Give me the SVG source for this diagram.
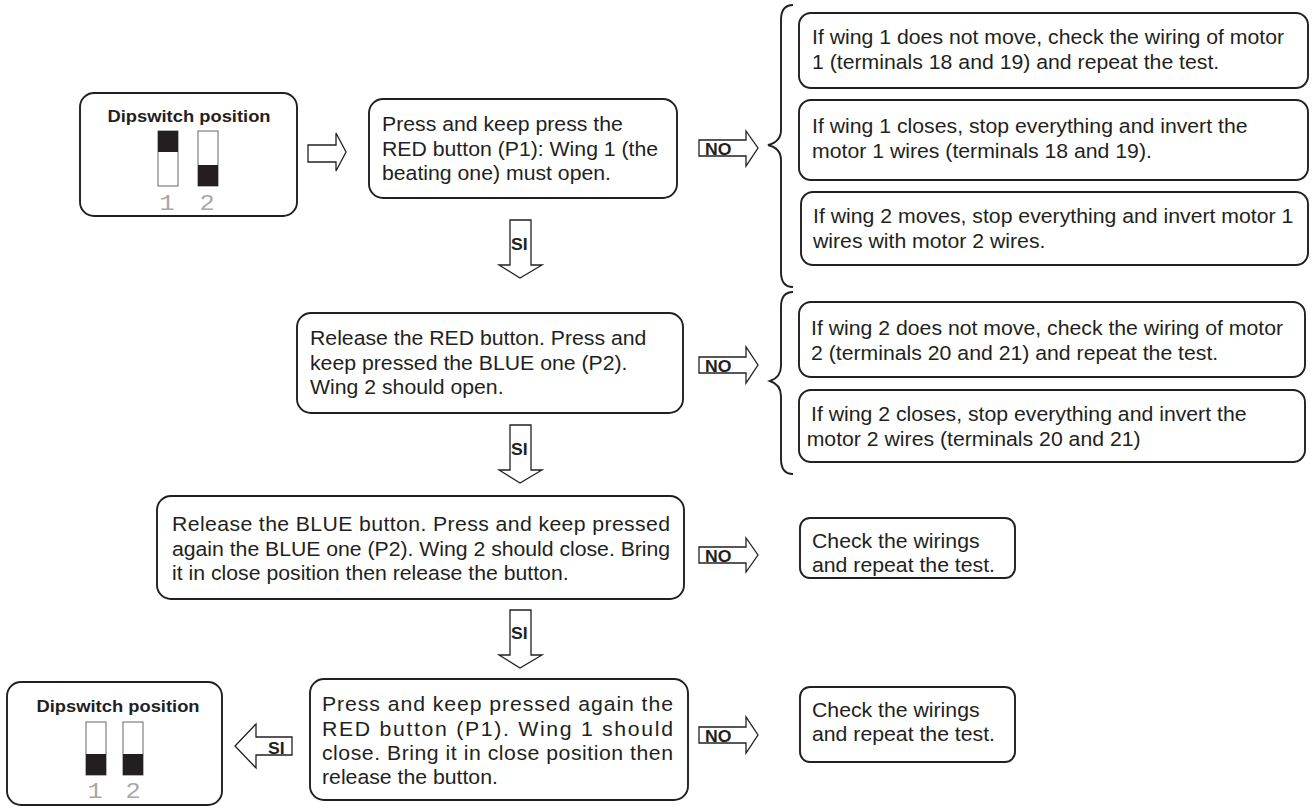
<svg xmlns="http://www.w3.org/2000/svg" width="1312" height="808" viewBox="0 0 1312 808">
  <defs>
    <style>
      .box { fill: #fff; stroke: #231f20; stroke-width: 1.9; }
      .arr { fill: #fff; stroke: #231f20; stroke-width: 1.3; stroke-linejoin: miter; }
      .brace { fill: none; stroke: #231f20; stroke-width: 1.9; }
      .sw { fill: #fff; stroke: #666; stroke-width: 1; }
      .swk { fill: #231f20; }
      .t { font-family: "Liberation Sans", Arial, Helvetica, sans-serif; font-size: 19.5px; fill: #231f20; }
      .ttl { font-family: "Liberation Sans", Arial, Helvetica, sans-serif; font-size: 17px; font-weight: bold; fill: #231f20; text-anchor: middle; }
      .lbl { font-family: "Liberation Sans", Arial, Helvetica, sans-serif; font-size: 16.5px; font-weight: bold; fill: #231f20; }
      .dig { font-family: "Liberation Mono", "Courier New", monospace; font-size: 22px; fill: #a8a8a8; text-anchor: middle; }
    </style>
  </defs>
  <rect width="1312" height="808" fill="#fff"/>

  <!-- connectors: block arrows and braces -->
  <g id="connectors">
    <polygon class="arr" points="308,145 336,145 336,133 346,152 336,171 336,162 308,162"/>
    <polygon class="arr" points="699,140 746,140 746,131 758,148 746,166 746,156 699,156"/>
    <polygon class="arr" points="699,357 746,357 746,347 758,365 746,383 746,373 699,373"/>
    <polygon class="arr" points="699,547 746,547 746,538 758,555 746,572 746,563 699,563"/>
    <polygon class="arr" points="699,727 746,727 746,717 758,735 746,753 746,743 699,743"/>
    <polygon class="arr" points="510,220 531,220 531,265 542,265 520,278 499,265 510,265"/>
    <polygon class="arr" points="510,425 531,425 531,470 542,470 520,483 499,470 510,470"/>
    <polygon class="arr" points="510,610 531,610 531,655 542,655 520,668 499,655 510,655"/>
    <polygon class="arr" points="292,737 256,737 256,724 235,746 256,768 256,755 292,755"/>
    <g transform="translate(705 0) scale(1.07 1)"><text class="lbl" x="0" y="155">NO</text><text class="lbl" x="0" y="372">NO</text><text class="lbl" x="0" y="562">NO</text><text class="lbl" x="0" y="742">NO</text></g>
    <g transform="translate(511 0) scale(1.07 1)"><text class="lbl" x="0" y="250">SI</text><text class="lbl" x="0" y="455">SI</text><text class="lbl" x="0" y="639">SI</text></g>
    <g transform="translate(268 0) scale(1.07 1)"><text class="lbl" x="0" y="754">SI</text></g>
    <path class="brace" d="M793 5 C785 5 781 10 781 20 L781 130 C781 139 776 143 768 145 C776 147 781 151 781 160 L781 272 C781 282 785 287 793 287"/>
    <path class="brace" d="M793 292 C785 292 781 297 781 307 L781 366 C781 375 776 379 770 381 C776 383 781 387 781 396 L781 459 C781 469 785 474 793 474"/>
  </g>

  <!-- dipswitch, first setting -->
  <g id="dip-start">
    <rect class="box" x="80" y="93" width="217" height="123" rx="14"/>
    <text class="ttl" transform="translate(189 0) scale(1.08 1)" x="0" y="122">Dipswitch position</text>
    <rect class="sw" x="158" y="131" width="20" height="55"/>
    <rect class="swk" x="158" y="131" width="20" height="21"/>
    <rect class="sw" x="198" y="131" width="20" height="55"/>
    <rect class="swk" x="198" y="165" width="20" height="21"/>
    <text class="dig" transform="translate(167 0) scale(1.15 1)" x="0" y="210">1</text>
    <text class="dig" transform="translate(207 0) scale(1.15 1)" x="0" y="210">2</text>
  </g>

  <!-- step 1 -->
  <g id="step-red-open">
    <rect class="box" x="369" y="99" width="308" height="99" rx="14"/>
    <text class="t" transform="translate(382 0) scale(1.09 1)">
      <tspan x="0" y="131">Press and keep press the</tspan>
      <tspan x="0" y="156">RED button (P1): Wing 1 (the</tspan>
      <tspan x="0" y="180">beating one) must open.</tspan>
    </text>
  </g>

  <g id="fault-wing1-still">
    <rect class="box" x="799" y="13" width="509" height="75" rx="12"/>
    <text class="t" transform="translate(812 0) scale(1.09 1)">
      <tspan x="0" y="44">If wing 1 does not move, check the wiring of motor</tspan>
      <tspan x="0" y="69">1 (terminals 18 and 19) and repeat the test.</tspan>
    </text>
  </g>
  <g id="fault-wing1-closes">
    <rect class="box" x="799" y="100" width="509" height="80" rx="12"/>
    <text class="t" transform="translate(812 0) scale(1.09 1)">
      <tspan x="0" y="133">If wing 1 closes, stop everything and invert the</tspan>
      <tspan x="0" y="158">motor 1 wires (terminals 18 and 19).</tspan>
    </text>
  </g>
  <g id="fault-wing2-moves">
    <rect class="box" x="801" y="192" width="507" height="73" rx="12"/>
    <text class="t" transform="translate(813 0) scale(1.09 1)">
      <tspan x="0" y="223">If wing 2 moves, stop everything and invert motor 1</tspan>
      <tspan x="0" y="248">wires with motor 2 wires.</tspan>
    </text>
  </g>

  <!-- step 2 -->
  <g id="step-blue-open">
    <rect class="box" x="297" y="313" width="386" height="100" rx="14"/>
    <text class="t" transform="translate(310 0) scale(1.09 1)">
      <tspan x="0" y="345">Release the RED button. Press and</tspan>
      <tspan x="0" y="370">keep pressed the BLUE one (P2).</tspan>
      <tspan x="0" y="394">Wing 2 should open.</tspan>
    </text>
  </g>

  <g id="fault-wing2-still">
    <rect class="box" x="799" y="302" width="506" height="75" rx="12"/>
    <text class="t" transform="translate(811 0) scale(1.09 1)">
      <tspan x="0" y="335">If wing 2 does not move, check the wiring of motor</tspan>
      <tspan x="0" y="360">2 (terminals 20 and 21) and repeat the test.</tspan>
    </text>
  </g>
  <g id="fault-wing2-closes">
    <rect class="box" x="799" y="390" width="506" height="72" rx="12"/>
    <text class="t" transform="translate(811 0) scale(1.09 1)">
      <tspan x="0" y="421">If wing 2 closes, stop everything and invert the</tspan>
      <tspan x="-4" y="446">motor 2 wires (terminals 20 and 21)</tspan>
    </text>
  </g>

  <!-- step 3 -->
  <g id="step-blue-close">
    <rect class="box" x="157" y="496" width="527" height="103" rx="14"/>
    <g transform="translate(172 0) scale(1.09 1)">
      <text class="t" x="0" y="531" textLength="457" lengthAdjust="spacing">Release the BLUE button. Press and keep pressed</text>
      <text class="t" x="0" y="556" textLength="457" lengthAdjust="spacing">again the BLUE one (P2). Wing 2 should close. Bring</text>
      <text class="t" x="0" y="580">it in close position then release the button.</text>
    </g>
  </g>

  <g id="check-1">
    <rect class="box" x="800" y="518" width="215" height="60" rx="10"/>
    <text class="t" transform="translate(812 0) scale(1.09 1)">
      <tspan x="0" y="548">Check the wirings</tspan>
      <tspan x="0" y="572">and repeat the test.</tspan>
    </text>
  </g>

  <!-- step 4 -->
  <g id="step-red-close">
    <rect class="box" x="310" y="679" width="378" height="121" rx="14"/>
    <g transform="translate(322 0) scale(1.09 1)">
      <text class="t" x="0" y="711" textLength="322" lengthAdjust="spacing">Press and keep pressed again the</text>
      <text class="t" x="0" y="736" textLength="322" lengthAdjust="spacing">RED button (P1). Wing 1 should</text>
      <text class="t" x="0" y="760" textLength="322" lengthAdjust="spacing">close. Bring it in close position then</text>
      <text class="t" x="0" y="784">release the button.</text>
    </g>
  </g>

  <g id="check-2">
    <rect class="box" x="800" y="687" width="215" height="75" rx="10"/>
    <text class="t" transform="translate(812 0) scale(1.09 1)">
      <tspan x="0" y="717">Check the wirings</tspan>
      <tspan x="0" y="741">and repeat the test.</tspan>
    </text>
  </g>

  <!-- dipswitch, final setting -->
  <g id="dip-end">
    <rect class="box" x="7" y="682" width="215" height="123" rx="14"/>
    <text class="ttl" transform="translate(118 0) scale(1.08 1)" x="0" y="712">Dipswitch position</text>
    <rect class="sw" x="86" y="722" width="20" height="53"/>
    <rect class="swk" x="86" y="754" width="20" height="21"/>
    <rect class="sw" x="123" y="722" width="20" height="53"/>
    <rect class="swk" x="123" y="754" width="20" height="21"/>
    <text class="dig" transform="translate(95 0) scale(1.15 1)" x="0" y="798">1</text>
    <text class="dig" transform="translate(133 0) scale(1.15 1)" x="0" y="798">2</text>
  </g>
</svg>
